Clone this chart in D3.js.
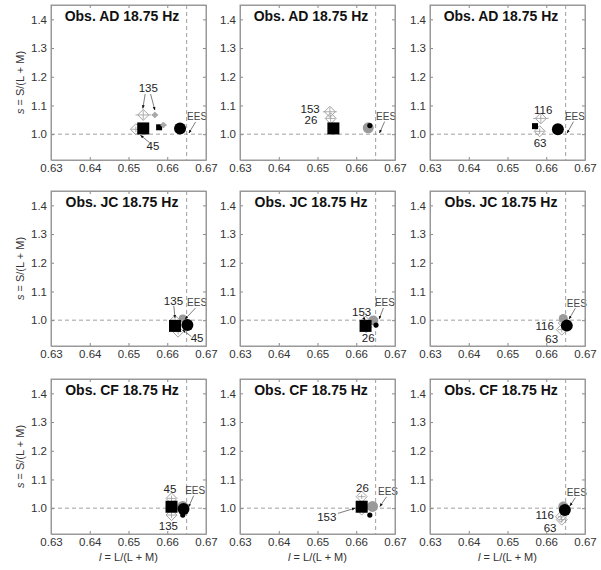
<!doctype html>
<html>
<head>
<meta charset="utf-8">
<title>Chromaticity shifts 18.75 Hz</title>
<script src="https://d3js.org/d3.v7.min.js"></script>
<style>
  body { margin: 0; background: #fff; }
  svg { font-family: "Liberation Sans", Arial, Helvetica, sans-serif; }
  .tick text { fill: #333; font-size: 11.5px; }
  .tick line { stroke: #888; }
  .domain { stroke: #999; }
</style>
</head>
<body>
<svg width="601" height="570"></svg>
<script>
// ---- data (l, s) per panel: panels 0..8, row = observer, col = condition set
var observers = ["AD", "JC", "CF"];
var xTicks = [0.63, 0.64, 0.65, 0.66, 0.67];
var yTicks = [1.0, 1.1, 1.2, 1.3, 1.4];
var ees = [0.665, 1.0];

// [panel, l, s]
var bigSquares = [[0, 0.6538, 1.020], [1, 0.6541, 1.020], [3, 0.6620, 0.980], [4, 0.6624, 0.980], [6, 0.6611, 1.005], [7, 0.6614, 1.005]];
var smallSquares = [[0, 0.6579, 1.024], [2, 0.6571, 1.028]];
var grayCircles = [[1, 0.6631, 1.022, 11], [3, 0.6640, 1.006, 8], [4, 0.6644, 0.999, 10], [5, 0.6644, 1.006, 9], [6, 0.6640, 1.006, 11], [7, 0.6642, 1.006, 11], [8, 0.6644, 1.006, 10]];
var bigCircles = [[0, 0.6633, 1.020], [2, 0.6630, 1.017], [3, 0.6652, 0.983], [5, 0.6653, 0.981], [6, 0.6642, 0.997], [8, 0.6648, 0.994]];
var smallCircles = [[1, 0.6635, 1.030], [4, 0.6651, 0.983], [6, 0.6640, 0.976], [7, 0.6635, 0.976]];
// [panel, l, s, lErr, sErr]
var openDiamonds = [
  [0, 0.6538, 1.067, 0.0020, 0.016], [0, 0.6519, 1.017, 0.0012, 0.010],
  [1, 0.6532, 1.078, 0.0018, 0.016], [1, 0.6534, 1.055, 0.0012, 0.012],
  [2, 0.6586, 1.055, 0.0020, 0.016], [2, 0.6583, 1.010, 0.0012, 0.010],
  [3, 0.6628, 0.960, 0.0010, 0.010], [3, 0.6620, 0.998, 0.0010, 0.010],
  [4, 0.6626, 0.975, 0.0010, 0.010], [4, 0.6624, 0.995, 0.0010, 0.010],
  [5, 0.6640, 0.967, 0.0010, 0.010], [5, 0.6645, 0.990, 0.0010, 0.010],
  [6, 0.6611, 1.034, 0.0012, 0.010], [6, 0.6611, 0.976, 0.0012, 0.010],
  [7, 0.6614, 1.040, 0.0010, 0.008], [7, 0.6614, 0.995, 0.0010, 0.008],
  [8, 0.6638, 0.970, 0.0008, 0.010], [8, 0.6640, 0.960, 0.0008, 0.010]
];
var grayDiamonds = [[0, 0.6568, 1.067, 0.0008, 0.006], [0, 0.6590, 1.032, 0.0008, 0.006]];

// [panel, text, l, s]
var labels = [
  [0, "135", 0.6551, 1.160], [0, "45", 0.6563, 0.959],
  [1, "153", 0.6481, 1.088], [1, "26", 0.6483, 1.049],
  [2, "116", 0.6592, 1.084], [2, "63", 0.6584, 0.969],
  [3, "135", 0.6616, 1.068], [3, "45", 0.6677, 0.938],
  [4, "153", 0.6614, 1.030], [4, "26", 0.6631, 0.937],
  [5, "116", 0.6596, 0.980], [5, "63", 0.6614, 0.934],
  [6, "45", 0.6607, 1.066], [6, "135", 0.6603, 0.938],
  [7, "26", 0.6616, 1.069], [7, "153", 0.6524, 0.970],
  [8, "116", 0.6596, 0.977], [8, "63", 0.6610, 0.931]
];
// [panel, l0, s0, l1, s1]
var arrows = [
  [0, 0.6543, 1.140, 0.6537, 1.090], [0, 0.6557, 1.140, 0.6568, 1.084],
  [0, 0.6554, 0.971, 0.6531, 0.996],
  [3, 0.6617, 1.050, 0.6620, 1.008], [3, 0.6662, 0.943, 0.6640, 0.966],
  [4, 0.6618, 1.013, 0.6622, 0.998],
  [7, 0.6553, 0.982, 0.6597, 1.000]
];
// EES label [panel, l, s, arrowL, arrowS]
var eesLabels = [
  [0, 0.6677, 1.060, 0.6656, 1.004], [1, 0.6677, 1.061, 0.6660, 1.004], [2, 0.6674, 1.061, 0.6654, 1.004],
  [3, 0.6677, 1.060, 0.6646, 1.004], [4, 0.6674, 1.060, 0.6659, 1.004], [5, 0.6679, 1.059, 0.6659, 1.004],
  [6, 0.6672, 1.061, 0.6655, 1.004], [7, 0.6682, 1.057, 0.6661, 1.006], [8, 0.6679, 1.054, 0.6661, 1.008]
];

// ---- layout
var W = 155, H = 155;
var colLeft = [51, 240, 430], rowTop = [5, 191, 379];
var svg = d3.select("svg");

var defs = svg.append("defs");
defs.append("marker").attr("id", "ah")
  .attr("viewBox", "0 0 10 10").attr("refX", 9).attr("refY", 5)
  .attr("markerWidth", 5).attr("markerHeight", 5).attr("orient", "auto")
  .append("path").attr("d", "M0,1 L10,5 L0,9 Z").attr("fill", "#111");

function diamond(r) { return "M0," + (-r) + "L" + r + ",0L0," + r + "L" + (-r) + ",0Z"; }

d3.range(9).forEach(function(p) {
  var row = Math.floor(p / 3), col = p % 3;
  var x = d3.scaleLinear().domain([0.63, 0.67]).range([0, W]);
  var y = d3.scaleLinear().domain([0.91, 1.45]).range([H, 0]);
  var g = svg.append("g").attr("transform", "translate(" + colLeft[col] + "," + rowTop[row] + ")");
  var only = function(arr) { return arr.filter(function(d) { return d[0] === p; }); };

  // reference lines at EES
  g.append("line").attr("x1", 0).attr("x2", W).attr("y1", y(ees[1])).attr("y2", y(ees[1]))
    .attr("stroke", "#888").attr("stroke-width", 0.8).attr("stroke-dasharray", "4,3");
  g.append("line").attr("x1", x(ees[0])).attr("x2", x(ees[0])).attr("y1", 0).attr("y2", H)
    .attr("stroke", "#888").attr("stroke-width", 0.8).attr("stroke-dasharray", "4,3");

  // error bars
  var eb = only(openDiamonds).concat(only(grayDiamonds));
  eb.forEach(function(d) {
    g.append("line").attr("x1", x(d[1] - d[3])).attr("x2", x(d[1] + d[3])).attr("y1", y(d[2])).attr("y2", y(d[2]))
      .attr("stroke", "#999").attr("stroke-width", 0.8);
    g.append("line").attr("x1", x(d[1])).attr("x2", x(d[1])).attr("y1", y(d[2] - d[4])).attr("y2", y(d[2] + d[4]))
      .attr("stroke", "#999").attr("stroke-width", 0.8);
  });

  g.selectAll(".od").data(only(openDiamonds)).enter().append("path")
    .attr("d", diamond(5.5))
    .attr("transform", function(d) { return "translate(" + x(d[1]) + "," + y(d[2]) + ")"; })
    .attr("fill", "none").attr("stroke", "#999").attr("stroke-width", 0.9);

  g.selectAll(".gc").data(only(grayCircles)).enter().append("circle")
    .attr("cx", function(d) { return x(d[1]); }).attr("cy", function(d) { return y(d[2]); })
    .attr("r", function(d) { return d[3] / 2; }).attr("fill", "#9a9a9a");

  g.selectAll(".bs").data(only(bigSquares)).enter().append("rect")
    .attr("x", function(d) { return x(d[1]) - 6; }).attr("y", function(d) { return y(d[2]) - 6; })
    .attr("width", 12).attr("height", 12).attr("fill", "#000");

  g.selectAll(".ss").data(only(smallSquares)).enter().append("rect")
    .attr("x", function(d) { return x(d[1]) - 3; }).attr("y", function(d) { return y(d[2]) - 3; })
    .attr("width", 6).attr("height", 6).attr("fill", "#000");

  g.selectAll(".bc").data(only(bigCircles)).enter().append("circle")
    .attr("cx", function(d) { return x(d[1]); }).attr("cy", function(d) { return y(d[2]); })
    .attr("r", 6).attr("fill", "#000");

  g.selectAll(".sc").data(only(smallCircles)).enter().append("circle")
    .attr("cx", function(d) { return x(d[1]); }).attr("cy", function(d) { return y(d[2]); })
    .attr("r", 2.6).attr("fill", "#000");

  g.selectAll(".gd").data(only(grayDiamonds)).enter().append("path")
    .attr("d", diamond(3))
    .attr("transform", function(d) { return "translate(" + x(d[1]) + "," + y(d[2]) + ")"; })
    .attr("fill", "#aaa").attr("stroke", "#999").attr("stroke-width", 0.6);

  // annotations
  only(arrows).forEach(function(d) {
    g.append("line").attr("x1", x(d[1])).attr("y1", y(d[2])).attr("x2", x(d[3])).attr("y2", y(d[4]))
      .attr("stroke", "#444").attr("stroke-width", 0.7).attr("marker-end", "url(#ah)");
  });
  g.selectAll(".lb").data(only(labels)).enter().append("text")
    .attr("x", function(d) { return x(d[2]); }).attr("y", function(d) { return y(d[3]); })
    .attr("dy", "0.35em").attr("text-anchor", "middle")
    .attr("font-size", 11.5).attr("fill", "#222").text(function(d) { return d[1]; });
  only(eesLabels).forEach(function(d) {
    g.append("text").attr("x", x(d[1])).attr("y", y(d[2])).attr("dy", "0.35em")
      .attr("text-anchor", "middle").attr("font-size", 10).attr("fill", "#444").text("EES");
    g.append("line").attr("x1", x(d[1]) - 1.5).attr("y1", y(d[2]) + 5).attr("x2", x(d[3])).attr("y2", y(d[4]))
      .attr("stroke", "#444").attr("stroke-width", 0.7).attr("marker-end", "url(#ah)");
  });

  // axes & frame
  g.append("g").attr("transform", "translate(0," + H + ")")
    .call(d3.axisBottom(x).tickValues(xTicks).tickFormat(d3.format(".2f")).tickSizeInner(-3).tickSizeOuter(0).tickPadding(4));
  g.append("g")
    .call(d3.axisLeft(y).tickValues(yTicks).tickFormat(d3.format(".1f")).tickSizeInner(-3).tickSizeOuter(0).tickPadding(4));
  g.append("g").call(d3.axisTop(x).tickValues(xTicks).tickFormat("").tickSizeInner(-3).tickSizeOuter(0));
  g.append("g").attr("transform", "translate(" + W + ",0)")
    .call(d3.axisRight(y).tickValues(yTicks).tickFormat("").tickSizeInner(-3).tickSizeOuter(0));
  g.append("rect").attr("width", W).attr("height", H).attr("fill", "none").attr("stroke", "#999").attr("stroke-width", 1);

  g.append("text").attr("x", 71).attr("y", 16).attr("text-anchor", "middle")
    .attr("font-size", 14).attr("font-weight", "bold").attr("fill", "#111")
    .text("Obs. " + observers[row] + " 18.75 Hz");

  if (col === 0) {
    var yl = g.append("text").attr("transform", "translate(-27," + (H / 2) + ") rotate(-90)")
      .attr("text-anchor", "middle").attr("font-size", 11).attr("fill", "#333");
    yl.append("tspan").attr("font-style", "italic").text("s");
    yl.append("tspan").text(" = S/(L + M)");
  }
  if (row === 2) {
    var xl = g.append("text").attr("x", W / 2).attr("y", H + 27).attr("text-anchor", "middle")
      .attr("font-size", 11).attr("fill", "#333");
    xl.append("tspan").attr("font-style", "italic").text("l");
    xl.append("tspan").text(" = L/(L + M)");
  }
});
</script>
</body>
</html>
